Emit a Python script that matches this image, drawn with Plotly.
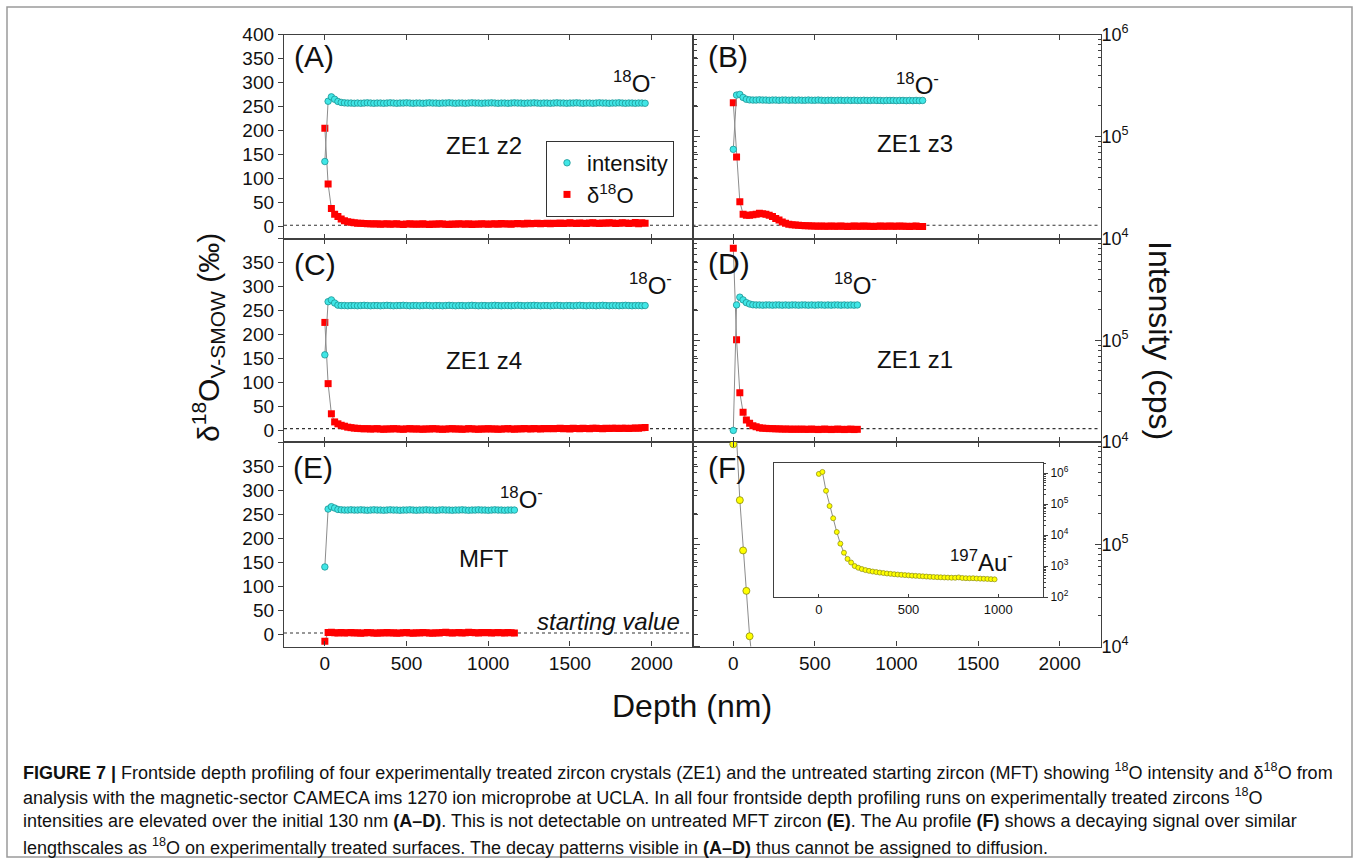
import plotly.graph_objects as go

# ---------------- data ----------------
DEPTH_NM = [0, 20, 40, 60, 80, 100, 120, 140, 160, 180,
            200, 220, 240, 260, 280, 300, 320, 340, 360, 380,
            400, 420, 440, 460, 480, 500, 520, 540, 560, 580,
            600, 620, 640, 660, 680, 700, 720, 740, 760, 780,
            800, 820, 840, 860, 880, 900, 920, 940, 960, 980,
            1000, 1020, 1040, 1060, 1080, 1100, 1120, 1140, 1160, 1180,
            1200, 1220, 1240, 1260, 1280, 1300, 1320, 1340, 1360, 1380,
            1400, 1420, 1440, 1460, 1480, 1500, 1520, 1540, 1560, 1580,
            1600, 1620, 1640, 1660, 1680, 1700, 1720, 1740, 1760, 1780,
            1800, 1820, 1840, 1860, 1880, 1900, 1920, 1940, 1960]

# 18O- intensity in kcps
INT_A_KCPS = [57, 222, 245, 232, 221, 216, 214, 213, 213, 212,
              213, 212, 213, 214, 213, 212, 213, 213, 212, 213,
              214, 213, 212, 213, 213, 214, 213, 212, 213, 213,
              212, 213, 214, 213, 213, 212, 213, 213, 214, 213,
              212, 213, 213, 212, 213, 214, 213, 213, 212, 213,
              213, 214, 213, 212, 213, 213, 212, 213, 214, 213,
              213, 212, 213, 213, 214, 213, 212, 213, 213, 212,
              213, 214, 213, 213, 212, 213, 213, 214, 213, 212,
              213, 213, 212, 213, 214, 213, 213, 212, 213, 213,
              214, 213, 212, 213, 213, 212, 213, 213, 212]
D18O_A = [205, 89, 38, 26, 21, 16, 12.5, 10.4, 9, 8,
          7, 7, 6.5, 6, 6, 5.5, 6, 5, 5.5, 6,
          5, 5.5, 6, 5, 4.5, 5.5, 6, 5, 5.5, 5,
          6, 5, 4.5, 5.5, 5, 6, 5.5, 5, 4.5, 5.5,
          5, 6, 5.5, 5, 6, 4.5, 5.5, 5, 6, 5.5,
          5, 5.5, 6, 5, 6.5, 5.5, 6, 5, 6, 6.5,
          6, 5.5, 7, 6, 6.5, 7, 6, 6.5, 7, 6,
          7, 6.5, 7.5, 6.5, 7, 8, 7, 6.5, 7.5, 7,
          6.5, 7.5, 8, 7, 6.5, 7.5, 7, 8, 7.5, 6.5,
          7, 8, 7.5, 6.5, 7, 8.5, 6, 8, 7]

INT_B_KCPS = [75, 255, 259, 242, 232, 229, 228, 228, 229, 228,
              228, 227, 228, 228, 227, 228, 228, 227, 228, 227,
              228, 227, 227, 228, 227, 227, 228, 227, 226, 227,
              227, 226, 227, 227, 226, 227, 226, 227, 226, 226,
              227, 226, 226, 227, 226, 226, 225, 226, 226, 226,
              225, 226, 226, 225, 226, 225, 226, 225, 226]
D18O_B = [258, 145, 52, 26, 24, 24, 25, 26, 28, 27,
          26, 24, 21, 17, 14, 10, 7, 5, 4, 3.5,
          3, 2.5, 2, 2, 1.5, 1.5, 1, 1.5, 1, 1,
          1.5, 1, 1, 1.5, 1, 0.5, 1, 1.5, 1, 1,
          1.5, 1, 1, 0.5, 1, 1.5, 1, 1, 1.5, 1,
          1, 1.5, 1, 1, 0.5, 1, 1.5, 0.5, 0.5]

INT_C_KCPS = [72, 240, 250, 233, 222, 220, 220, 219, 220, 220,
              219, 220, 221, 220, 219, 220, 220, 219, 220, 221,
              220, 219, 220, 220, 221, 220, 219, 220, 220, 219,
              220, 221, 220, 219, 220, 220, 219, 220, 221, 220,
              219, 220, 220, 219, 220, 221, 220, 219, 220, 220,
              219, 220, 221, 220, 219, 220, 220, 219, 220, 221,
              220, 219, 220, 220, 221, 220, 219, 220, 220, 219,
              220, 221, 220, 219, 220, 220, 219, 220, 221, 220,
              219, 220, 220, 219, 220, 221, 220, 219, 220, 220,
              219, 220, 221, 220, 219, 220, 220, 219, 220]
D18O_C = [225, 97, 34, 17, 13, 10, 8, 6, 5, 4,
          3.5, 3, 2.5, 3, 2, 2.5, 3, 2, 1.5, 2.5,
          2, 3, 2.5, 2, 1.5, 2.5, 3, 2, 2.5, 2,
          1.5, 2.5, 2, 3, 2.5, 2, 1.5, 2, 2.5, 3,
          2, 2.5, 1.5, 2, 3, 2.5, 2, 1.5, 2.5, 2,
          3, 2, 2.5, 1.5, 2, 2.5, 3, 2, 1.5, 2.5,
          2, 3, 2.5, 2, 3, 2.5, 2, 3, 2.5, 3,
          2.5, 3, 3.5, 2.5, 3, 2, 3.5, 3, 2.5, 3.5,
          3, 2.5, 3.5, 4, 3, 2.5, 3.5, 3, 4, 3.5,
          3, 4, 3.5, 3, 4, 4.5, 3.5, 5, 5.5]

INT_D_KCPS = [13, 223, 266, 250, 235, 228, 224, 223, 223, 222,
              223, 223, 222, 223, 223, 222, 223, 222, 223, 223,
              222, 223, 223, 222, 223, 222, 223, 223, 222, 223,
              222, 223, 223, 222, 223, 222, 223, 222, 223]
D18O_D = [380, 189, 78, 37, 21, 14, 9, 7, 5, 4,
          3.5, 3, 3, 2.5, 2.5, 2, 2, 2, 1.5, 2,
          1.5, 2, 1.5, 1.5, 2, 1.5, 1, 1.5, 2, 1.5,
          1, 1.5, 2, 1.5, 1, 1.5, 2, 1, 1.5]

INT_E_KCPS = [60, 221, 233, 226, 219, 217, 216, 216, 217, 216,
              216, 217, 216, 215, 216, 217, 216, 216, 215, 216,
              217, 216, 216, 215, 216, 216, 217, 216, 215, 216,
              216, 217, 216, 216, 215, 216, 217, 216, 216, 215,
              216, 216, 217, 216, 215, 216, 216, 217, 216, 216,
              215, 216, 217, 216, 216, 215, 216, 216, 216]
D18O_E = [-14, 4, 4.5, 3.5, 3, 4, 3, 3.5, 4, 3,
          3.5, 2.5, 3, 4, 3.5, 3, 2.5, 3.5, 3, 4,
          3, 3.5, 2.5, 3, 3.5, 4, 3, 2.5, 3.5, 3,
          4, 3.5, 3, 2.5, 3.5, 3, 4, 4.5, 3.5, 3,
          3.5, 4, 3, 3.5, 4.5, 4, 3.5, 3, 4, 3.5,
          4, 3, 3.5, 4, 3.5, 3, 4, 3.5, 3]

# 197Au- intensity in cps
AU_CPS = [950000, 1100000, 270000, 87000, 35000, 12600, 5300, 2700, 1700, 1300,
          1000, 880, 800, 740, 700, 665, 640, 615, 595, 575,
          560, 545, 532, 520, 510, 500, 490, 482, 474, 466,
          458, 450, 444, 438, 433, 428, 424, 420, 418, 430,
          412, 405, 402, 404, 396, 392, 388, 384, 378, 372]

START_VALUE = 3

PANEL_LABELS = ["(A)", "(B)", "(C)", "(D)", "(E)", "(F)"]
SAMPLE_NAMES = ["ZE1 z2", "ZE1 z3", "ZE1 z4", "ZE1 z1", "MFT", None]

X_TICKS = [0, 500, 1000, 1500, 2000]
D18O_TICKS = [0, 50, 100, 150, 200, 250, 300, 350, 400]
LOG_TICKS = [1e4, 1e5, 1e6]
LOG_MINOR = [2e4, 3e4, 4e4, 5e4, 6e4, 7e4, 8e4, 9e4,
             2e5, 3e5, 4e5, 5e5, 6e5, 7e5, 8e5, 9e5]
INSET_X_TICKS = [0, 500, 1000]
INSET_LOG_TICKS = [1e2, 1e3, 1e4, 1e5, 1e6]
INSET_LOG_MINOR = [2e2, 3e2, 4e2, 5e2, 6e2, 7e2, 8e2, 9e2,
                   2e3, 3e3, 4e3, 5e3, 6e3, 7e3, 8e3, 9e3,
                   2e4, 3e4, 4e4, 5e4, 6e4, 7e4, 8e4, 9e4,
                   2e5, 3e5, 4e5, 5e5, 6e5, 7e5, 8e5, 9e5, 2e6]

CAPTION_LINES = [
    "<b>FIGURE 7 |</b> Frontside depth profiling of four experimentally treated zircon crystals (ZE1) and the untreated starting zircon (MFT) showing <sup>18</sup>O intensity and δ<sup>18</sup>O from",
    "analysis with the magnetic-sector CAMECA ims 1270 ion microprobe at UCLA. In all four frontside depth profiling runs on experimentally treated zircons <sup>18</sup>O",
    "intensities are elevated over the initial 130 nm <b>(A–D)</b>. This is not detectable on untreated MFT zircon <b>(E)</b>. The Au profile <b>(F)</b> shows a decaying signal over similar",
    "lengthscales as <sup>18</sup>O on experimentally treated surfaces. The decay patterns visible in <b>(A–D)</b> thus cannot be assigned to diffusion.",
]

# ---------------- layout helpers ----------------
W, H = 1360, 864
FONT = "Arial, Liberation Sans, sans-serif"
CAP_FONT = "Liberation Sans Narrow, Arial Narrow, Liberation Sans, sans-serif"
LINE = "#404040"
GRAY = "#8c8c8c"
CYAN = "#40e6e6"
CYAN_EDGE = "#1c9494"
RED = "#ff0000"
YELLOW = "#ffff00"
YELLOW_EDGE = "#8a8a10"


def px(x):
    return x / W


def py(y):
    return 1 - y / H


def axkey(letter, n):
    return f"{letter}axis" if n == 1 else f"{letter}axis{n}"


def axref(letter, n):
    return letter if n == 1 else f"{letter}{n}"


COLS = [(284, 692.5), (692.5, 1100.5)]
ROWS = [(34.5, 238.7), (238.7, 442), (442, 646.5)]

panels = [
    dict(row=0, col=0, inten=INT_A_KCPS, delta=D18O_A),
    dict(row=0, col=1, inten=INT_B_KCPS, delta=D18O_B),
    dict(row=1, col=0, inten=INT_C_KCPS, delta=D18O_C),
    dict(row=1, col=1, inten=INT_D_KCPS, delta=D18O_D),
    dict(row=2, col=0, inten=INT_E_KCPS, delta=D18O_E),
    dict(row=2, col=1, inten=None, delta=None),
]

fig = go.Figure()
layout = dict(
    width=W, height=H,
    margin=dict(l=0, r=0, t=0, b=0),
    paper_bgcolor="white", plot_bgcolor="rgba(0,0,0,0)",
    font=dict(family=FONT, color="#111111"),
    hovermode=False,
    showlegend=True,
    legend=dict(x=px(546), y=py(141), xanchor="left", yanchor="top",
                bgcolor="white", bordercolor="#333333", borderwidth=1,
                font=dict(size=22, family=FONT, color="#111111"),
                itemwidth=30, tracegroupgap=0),
)
shapes = []
annotations = []

for i, p in enumerate(panels):
    xn, yd, yl = i + 1, 2 * i + 1, 2 * i + 2
    x0, x1 = COLS[p["col"]]
    y0, y1 = ROWS[p["row"]]
    left = p["col"] == 0
    bottom = p["row"] == 2
    top_row = p["row"] == 0

    layout[axkey("x", xn)] = dict(
        domain=[px(x0), px(x1)], range=[-250, 2250], anchor=axref("y", yd),
        tickmode="array", tickvals=X_TICKS, ticks="inside", ticklen=5,
        tickcolor=LINE, showline=True, mirror="ticks", linecolor=LINE, linewidth=1.3,
        showticklabels=bottom, tickfont=dict(size=19, family=FONT, color="#111111"),
        showgrid=False, zeroline=False, automargin=False)

    dtext = [str(v) for v in D18O_TICKS]
    if not top_row:
        dtext[-1] = ""
    layout[axkey("y", yd)] = dict(
        domain=[py(y1), py(y0)], range=[-25, 400], anchor=axref("x", xn),
        tickmode="array", tickvals=D18O_TICKS, ticktext=dtext,
        ticks="outside" if left else "inside", ticklen=5, tickcolor=LINE,
        showticklabels=left, tickfont=dict(size=19, family=FONT, color="#111111"),
        showline=True, mirror=True, linecolor=LINE, linewidth=1.3,
        showgrid=False, zeroline=False, automargin=False)

    ltext = ["10<sup>4</sup>", "10<sup>5</sup>", "10<sup>6</sup>" if top_row else ""]
    layout[axkey("y", yl)] = dict(
        overlaying=axref("y", yd), side="right", type="log", range=[4, 6],
        anchor=axref("x", xn),
        tickmode="array", tickvals=LOG_TICKS, ticktext=ltext,
        ticks="outside" if left else "inside", ticklen=6, tickcolor=LINE,
        minor=dict(tickmode="array", tickvals=LOG_MINOR,
                   ticks="outside" if left else "inside", ticklen=3, tickcolor=LINE,
                   showgrid=False),
        showticklabels=not left, tickfont=dict(size=18, family=FONT, color="#111111"),
        showline=False, showgrid=False, zeroline=False, automargin=False)

    xr, ydr, ylr = axref("x", xn), axref("y", yd), axref("y", yl)

    if p["delta"] is not None:
        depth = DEPTH_NM[:len(p["delta"])]
        inten = [v * 1000 for v in p["inten"]]
        fig.add_trace(go.Scatter(x=depth, y=p["delta"], mode="lines",
                                 line=dict(color=GRAY, width=1),
                                 xaxis=xr, yaxis=ydr, showlegend=False, hoverinfo="skip"))
        fig.add_trace(go.Scatter(x=depth, y=p["delta"], mode="markers", name="δ<sup>18</sup>O",
                                 marker=dict(symbol="square", size=7, color=RED, line=dict(width=0)),
                                 xaxis=xr, yaxis=ydr, showlegend=(i == 0), legendrank=2))
        fig.add_trace(go.Scatter(x=depth, y=inten, mode="lines",
                                 line=dict(color=GRAY, width=1),
                                 xaxis=xr, yaxis=ylr, showlegend=False, hoverinfo="skip"))
        fig.add_trace(go.Scatter(x=depth, y=inten, mode="markers", name="intensity",
                                 marker=dict(symbol="circle", size=6.5, color=CYAN,
                                             line=dict(color=CYAN_EDGE, width=0.8)),
                                 xaxis=xr, yaxis=ylr, showlegend=(i == 0), legendrank=1))
        shapes.append(dict(type="line", xref=f"{xr} domain", yref=ydr, x0=0, x1=1,
                           y0=START_VALUE, y1=START_VALUE, layer="below",
                           line=dict(color="#333333", width=1.1, dash="dot")))
    else:
        depth = DEPTH_NM[:len(AU_CPS)]
        # empty trace so the base (delta) axis of panel F has a subplot of its own
        fig.add_trace(go.Scatter(x=[], y=[], mode="markers", xaxis=xr, yaxis=ydr,
                                 showlegend=False, hoverinfo="skip"))
        fig.add_trace(go.Scatter(x=depth, y=AU_CPS, mode="lines+markers",
                                 line=dict(color=GRAY, width=1),
                                 marker=dict(symbol="circle", size=7, color=YELLOW,
                                             line=dict(color=YELLOW_EDGE, width=0.8)),
                                 xaxis=xr, yaxis=ylr, showlegend=False))

# ---------------- inset in (F) ----------------
layout["xaxis7"] = dict(
    domain=[px(774), px(1043)], range=[-250, 1250], anchor="y13",
    tickmode="array", tickvals=INSET_X_TICKS, ticks="inside", ticklen=3, tickcolor=LINE,
    showline=True, mirror=True, linecolor=LINE, linewidth=1.1,
    tickfont=dict(size=13, family=FONT, color="#111111"),
    showgrid=False, zeroline=False, automargin=False)
layout["yaxis13"] = dict(
    domain=[py(597), py(463)], type="log", range=[2, 6.33], anchor="x7", side="right",
    tickmode="array", tickvals=INSET_LOG_TICKS,
    ticktext=["10<sup>2</sup>", "10<sup>3</sup>", "10<sup>4</sup>", "10<sup>5</sup>", "10<sup>6</sup>"],
    ticks="outside", ticklen=4, tickcolor=LINE,
    minor=dict(tickmode="array", tickvals=INSET_LOG_MINOR, ticks="outside", ticklen=2,
               tickcolor=LINE, showgrid=False),
    showline=True, mirror=True, linecolor=LINE, linewidth=1.1,
    tickfont=dict(size=12, family=FONT, color="#111111"),
    showgrid=False, zeroline=False, automargin=False)
fig.add_trace(go.Scatter(x=DEPTH_NM[:len(AU_CPS)], y=AU_CPS, mode="lines+markers",
                         line=dict(color=GRAY, width=1),
                         marker=dict(symbol="circle", size=5, color=YELLOW,
                                     line=dict(color=YELLOW_EDGE, width=0.7)),
                         xaxis="x7", yaxis="y13", showlegend=False))

# ---------------- text ----------------
def note(text, x, y, size, xanchor="center", yanchor="middle", angle=0, italic=False, family=FONT):
    annotations.append(dict(text=text, x=px(x), y=py(y), xref="paper", yref="paper",
                            xanchor=xanchor, yanchor=yanchor, showarrow=False, textangle=angle,
                            font=dict(size=size, family=family, color="#111111",
                                      style="italic" if italic else "normal")))


label_pos = [(292, 57), (706, 57), (292, 264), (706, 263), (291, 468), (706, 468)]
for lab, (x, y) in zip(PANEL_LABELS, label_pos):
    note(lab, x, y, 30, xanchor="left")

name_pos = [(484, 145), (915, 144), (484, 360), (915, 359), (484, 558)]
for nm, (x, y) in zip(SAMPLE_NAMES, name_pos):
    note(nm, x, y, 24)

o18_pos = [(634, 82), (917, 84), (650, 284), (855, 284), (521, 498)]
for x, y in o18_pos:
    note("<sup>18</sup>O<sup>-</sup>", x, y, 24)
note("<sup>197</sup>Au<sup>-</sup>", 981, 561, 24)
note("starting value", 608, 621, 24, italic=True)

note("Depth (nm)", 692, 706, 32)
note("Intensity (cps)", 1160, 340, 32, angle=90)
note("δ<sup>18</sup>O<sub>V-SMOW</sub> (‰)", 208, 338, 30, angle=-90)

for k, line in enumerate(CAPTION_LINES):
    note(line, 21, 771 + 25 * k, 18, xanchor="left", family=CAP_FONT)

shapes.append(dict(type="rect", xref="paper", yref="paper",
                   x0=px(7), x1=px(1352), y0=py(857), y1=py(7),
                   line=dict(color="#9a9a9a", width=1.5), layer="below"))

layout["shapes"] = shapes
layout["annotations"] = annotations
fig.update_layout(**layout)
fig.write_html("out.html")
